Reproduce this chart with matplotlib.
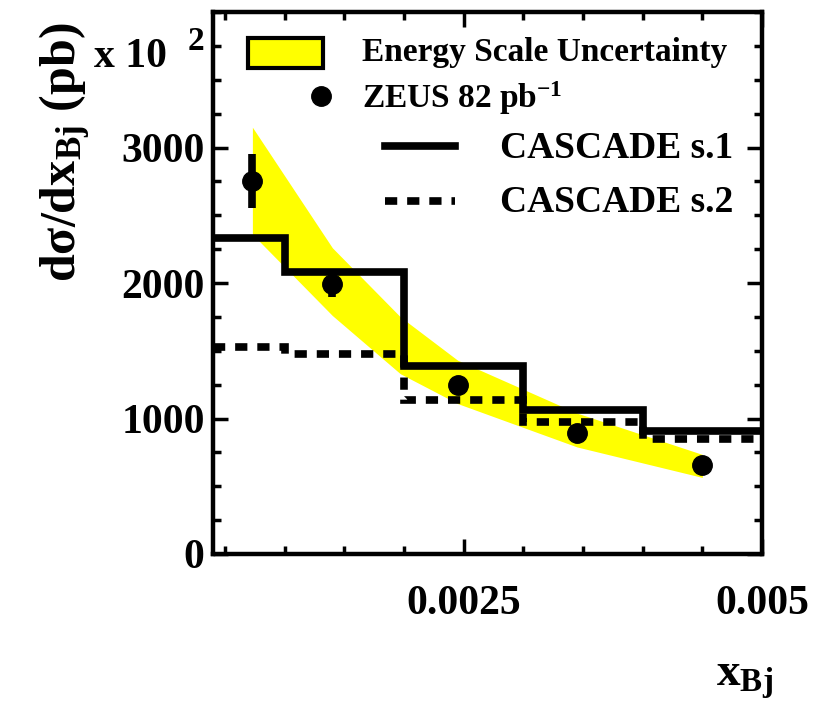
import matplotlib
matplotlib.use("Agg")
import matplotlib.pyplot as plt
from matplotlib.ticker import MultipleLocator, FixedLocator, FixedFormatter
from matplotlib.patches import Rectangle
from matplotlib.lines import Line2D

# histogram bin edges (x_Bj) and MC predictions
bin_edges = [0.0004, 0.001, 0.002, 0.003, 0.004, 0.005]
cascade_s1 = [2330, 2080, 1390, 1065, 905]
cascade_s2 = [1528, 1478, 1138, 972, 850]

# ZEUS data
zeus_x = [0.00073, 0.0014, 0.00245, 0.00345, 0.0045]
zeus_y = [2750, 1995, 1250, 895, 655]
zeus_err = [200, 95, 30, 25, 20]

# energy scale uncertainty band
band_x = [0.00073, 0.0014, 0.00197, 0.00245, 0.00345, 0.0045]
band_hi = [3150, 2260, 1750, 1430, 1040, 735]
band_lo = [2360, 1760, 1330, 1110, 790, 565]

xticks = [0.0025, 0.005]
xticklabels = ["0.0025", "0.005"]
yticks = [0, 1000, 2000, 3000]
yticklabels = ["0", "1000", "2000", "3000"]

plt.rcParams['font.family'] = ['Liberation Serif', 'DejaVu Serif']
plt.rcParams['font.weight'] = 'bold'
plt.rcParams['mathtext.fontset'] = 'custom'
plt.rcParams['mathtext.rm'] = 'Liberation Serif:bold'
plt.rcParams['mathtext.it'] = 'Liberation Serif:bold:italic'
plt.rcParams['mathtext.bf'] = 'Liberation Serif:bold'

W, H = 813, 707
fig = plt.figure(figsize=(W / 100, H / 100), dpi=100)
ax = fig.add_axes([213 / W, 1 - 554 / H, 549 / W, 542 / H])

yellow = '#ffff00'
dash = (0, (1.6, 1.3))
ax.fill_between(band_x, band_lo, band_hi, color=yellow, lw=0, zorder=1)
ax.stairs(cascade_s1, bin_edges, baseline=None, color='k', lw=5.5, zorder=3)
ax.stairs(cascade_s2, bin_edges, baseline=None, color='k', lw=5.5,
          linestyle=dash, zorder=2)
ax.errorbar(zeus_x, zeus_y, yerr=zeus_err, fmt='o', color='k', ms=14,
            elinewidth=5.5, capsize=0, zorder=4)

ax.set_xlim(0.0004, 0.005)
ax.set_ylim(0, 4000)
ax.xaxis.set_major_locator(FixedLocator(xticks))
ax.xaxis.set_major_formatter(FixedFormatter(xticklabels))
ax.xaxis.set_minor_locator(MultipleLocator(0.0005))
ax.yaxis.set_major_locator(FixedLocator(yticks))
ax.yaxis.set_major_formatter(FixedFormatter(yticklabels))
ax.yaxis.set_minor_locator(MultipleLocator(250))
ax.tick_params(which='both', direction='in', top=True, right=True, width=2.5,
               labelsize=30)
ax.tick_params(which='major', length=11)
ax.tick_params(which='minor', length=5.5)
ax.tick_params(axis='x', pad=22)
ax.tick_params(axis='y', pad=6)
for s in ax.spines.values():
    s.set_linewidth(3.2)

# legend drawn by hand
def px(x, y):
    return ((x - 213) / 549, (554 - y) / 542)

x0, y0 = px(248, 68)
x1, y1 = px(323, 38)
ax.add_patch(Rectangle((x0, y0), x1 - x0, y1 - y0, transform=ax.transAxes,
                       facecolor=yellow, edgecolor='k', lw=3, zorder=5))
ax.text(*px(362, 52), "Energy Scale Uncertainty", transform=ax.transAxes,
        fontsize=24, va='center', ha='left')
ax.add_line(Line2D([px(321, 0)[0]], [px(0, 96)[1]], marker='o', ms=14,
                   color='k', transform=ax.transAxes))
ax.text(*px(362, 98), r"ZEUS 82 pb$^{\mathrm{-1}}$", transform=ax.transAxes,
        fontsize=24, va='center', ha='left')
ax.add_line(Line2D([px(385, 0)[0], px(455, 0)[0]], [px(0, 146)[1]] * 2,
                   color='k', lw=5.5, transform=ax.transAxes))
ax.text(*px(500, 148), "CASCADE s.1", transform=ax.transAxes,
        fontsize=27, va='center', ha='left')
ax.add_line(Line2D([px(385, 0)[0], px(455, 0)[0]], [px(0, 201)[1]] * 2,
                   color='k', lw=5.5, linestyle=dash,
                   transform=ax.transAxes))
ax.text(*px(500, 203), "CASCADE s.2", transform=ax.transAxes,
        fontsize=27, va='center', ha='left')

fig.text(65 / W, 1 - 152 / H, "d\u03c3/dx$_{\\mathrm{Bj}}$ (pb)", rotation=90,
         fontsize=36, ha='center', va='center')
fig.text(94 / W, 1 - 57 / H, "x 10", fontsize=30, ha='left', va='center')
fig.text(188 / W, 1 - 41 / H, "2", fontsize=24, ha='left', va='center')
fig.text(745 / W, 1 - 680 / H, "x$_{\\mathrm{Bj}}$", fontsize=34,
         ha='center', va='center')

fig.savefig("out.png", dpi=100)
